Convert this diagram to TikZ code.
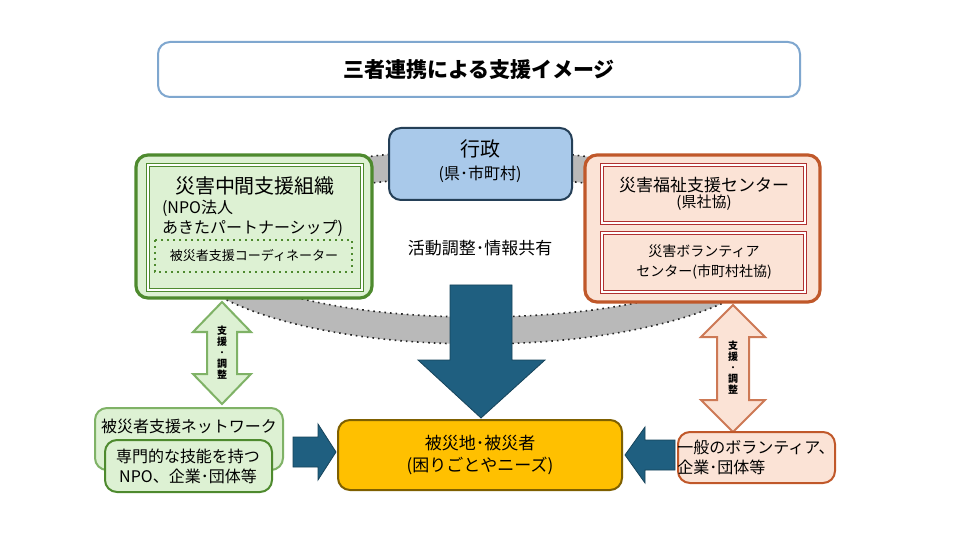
\documentclass[tikz,border=0pt]{standalone}
\usepackage{fontspec}
\setmainfont{Noto Sans CJK JP}
\usetikzlibrary{positioning}
\definecolor{titleblue}{HTML}{7FA7CF}
\definecolor{govfill}{HTML}{A9C9EA}
\definecolor{govline}{HTML}{243F57}
\definecolor{grnfill}{HTML}{DDF1D3}
\definecolor{grnline}{HTML}{4E8A2E}
\definecolor{grnlite}{HTML}{7FB266}
\definecolor{orgfill}{HTML}{FBE3D6}
\definecolor{orgline}{HTML}{C0582A}
\definecolor{redline}{HTML}{B03030}
\definecolor{arrblue}{HTML}{1F5F80}
\definecolor{yel}{HTML}{FFC000}
\definecolor{yelline}{HTML}{7F6000}
\tikzset{
	box/.style={draw, rounded corners=6pt, line width=1pt},
	big/.style={font=\fontsize{10}{12}\selectfont},
	mid/.style={font=\fontsize{8}{10}\selectfont},
	sml/.style={font=\fontsize{6.5}{8}\selectfont}
}
\begin{document}
\begin{tikzpicture}[x=0.5pt,y=-0.5pt]
	\useasboundingbox (0,0) rectangle (960,540);
	\fill[white] (0,0) rectangle (960,540);
	% Ring
	\fill[gray!55, even odd rule] (478,247) ellipse [x radius=300, y radius=97] (478,247) ellipse [x radius=262, y radius=70];
	\draw[gray!30!black, dotted, line width=0.8pt] (478,247) ellipse [x radius=300, y radius=97];
	\draw[gray!30!black, dotted, line width=0.8pt] (478,247) ellipse [x radius=262, y radius=70];
	% Title
	\draw[box, titleblue, fill=white] (158,42) rectangle (800,97);
	\node[big, font=\fontsize{10.5}{12}\selectfont\bfseries] (title) at (479,70) {三者連携による支援イメージ};
	% Gov
	\draw[box, govline, fill=govfill] (389,128) rectangle (572,200);
	\node[big] (gov) at (480,149) {行政};
	\node[mid, below=-3pt of gov] (govsub) {(県･市町村)};
	% Left org
	\draw[box, grnline, fill=grnfill, line width=1.6pt] (136,155) rectangle (372,298);
	\draw[grnline, double, line width=0.3pt, double distance=1.2pt] (148,165) rectangle (362,290);
	\node[big] (mid) at (255,186) {災害中間支援組織};
	\node[mid, anchor=west, align=left] (npo) at (155,218) {(NPO法人\\あきたパートナーシップ)};
	\draw[grnline, dotted, line width=1pt] (155,240) rectangle (352,272);
	\node[sml] (coord) at (254,256) {被災者支援コーディネーター};
	% Right org
	\draw[box, orgline, fill=orgfill, line width=1.6pt] (585,155) rectangle (820,302);
	\draw[redline, double, line width=0.3pt, double distance=1.2pt] (602,165) rectangle (805,223);
	\draw[redline, double, line width=0.3pt, double distance=1.2pt] (602,233) rectangle (805,292);
	\node[mid, font=\fontsize{8.5}{10}\selectfont, align=center] (pref) at (704,194) {災害福祉支援センター\\[-2pt]{\fontsize{7.5}{9}\selectfont (県社協)}};
	\node[sml, font=\fontsize{7}{10}\selectfont, align=center] (vc) at (704,262) {災害ボランティア\\センター(市町村社協)};
	% Center text
	\node[mid, font=\fontsize{8.5}{10}\selectfont] (share) at (480,248) {活動調整･情報共有};
	% Big arrow
	\draw[arrblue!70!black, fill=arrblue] (450,285) -- (512,285) -- (512,360) -- (545,360) -- (481,418) -- (418,360) -- (450,360) -- cycle;
	% Victims
	\draw[box, yelline, fill=yel] (338,420) rectangle (622,490);
	\node[mid, font=\fontsize{8.5}{11}\selectfont, align=center] (vict) at (480,455) {被災地･被災者\\(困りごとやニーズ)};
	% Side arrows
	\draw[arrblue!70!black, fill=arrblue] (293,437) -- (318,437) -- (318,424) -- (336,452) -- (318,480) -- (318,467) -- (293,467) -- cycle;
	\draw[arrblue!70!black, fill=arrblue] (675,440) -- (645,440) -- (645,427) -- (625,455) -- (645,483) -- (645,470) -- (675,470) -- cycle;
	% Double arrows
	\draw[grnlite, fill=grnfill, line width=1pt] (222,302) -- (251,332) -- (237,332) -- (237,374) -- (251,374) -- (222,404) -- (193,374) -- (207,374) -- (207,332) -- (193,332) -- cycle;
	\node[sml, font=\fontsize{5}{5.5}\selectfont\bfseries, align=center] (adj1) at (222,353) {支\\援\\･\\調\\整};
	\draw[orgline!80, fill=orgfill, line width=1pt] (733,305) -- (765,337) -- (749,337) -- (749,400) -- (765,400) -- (733,432) -- (701,400) -- (717,400) -- (717,337) -- (701,337) -- cycle;
	\node[sml, font=\fontsize{5}{5.5}\selectfont\bfseries, align=center] (adj2) at (733,368) {支\\援\\･\\調\\整};
	% Networks
	\draw[box, grnlite, fill=grnfill] (95,408) rectangle (283,470);
	\node[mid] (net) at (189,426) {被災者支援ネットワーク};
	\draw[box, grnline, fill=grnfill] (105,440) rectangle (272,492);
	\node[mid, align=center] (pro) at (188,466) {専門的な技能を持つ\\NPO、企業･団体等};
	\draw[box, orgline, fill=orgfill] (678,432) rectangle (835,483);
	\node[mid, align=left] (vol) at (756,457) {一般のボランティア、\\企業･団体等};
\end{tikzpicture}
\end{document}
